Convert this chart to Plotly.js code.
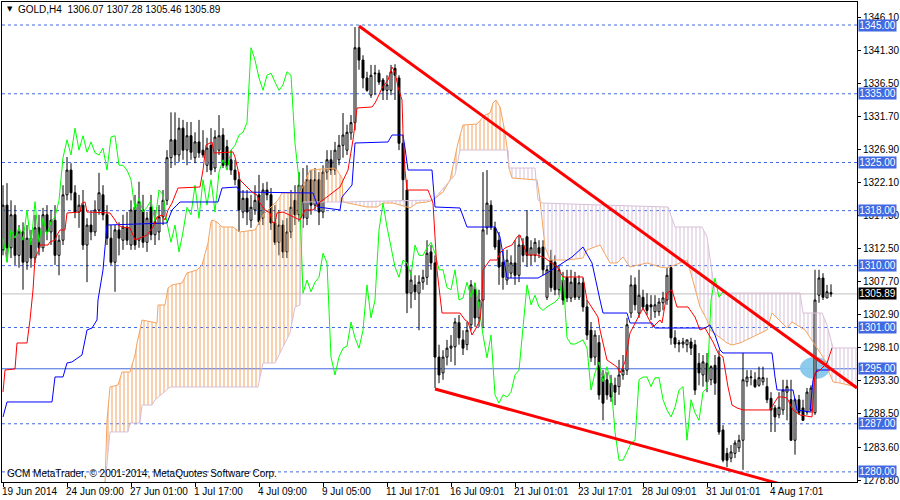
<!DOCTYPE html>
<html><head><meta charset="utf-8">
<script src="https://cdn.plot.ly/plotly-3.0.1.min.js"></script>
<style>html,body{margin:0;padding:0;background:#fff}#chart{width:900px;height:500px}</style>
</head><body><div id="chart"></div>
<script>
// ---------- data (GOLD, H4) ----------
const opens=[1312.3,1318.8,1312.6,1317.4,1311.5,1314.9,1310.5,1314.0,1311.1,1315.5,
1312.6,1317.4,1314.9,1316.6,1311.5,1313.7,1320.3,1323.9,1320.6,1317.8,
1318.8,1313.0,1315.9,1314.9,1318.1,1320.3,1317.4,1314.0,1310.5,1315.2,
1313.7,1315.6,1313.0,1318.5,1313.7,1318.1,1313.4,1318.5,1314.5,1314.9,
1317.1,1319.5,1325.7,1328.3,1326.1,1330.0,1326.8,1328.9,1325.7,1328.0,
1326.8,1324.6,1327.5,1324.2,1326.8,1329.0,1327.3,1325.4,1323.9,1322.5,
1317.8,1319.8,1316.6,1318.1,1320.3,1316.9,1321.0,1320.3,1316.2,1313.4,
1315.9,1312.0,1314.9,1319.5,1317.4,1321.7,1316.9,1322.5,1318.8,1322.5,
1317.8,1323.6,1325.4,1323.9,1325.4,1327.5,1326.8,1329.3,1330.8,1341.7,
1339.9,1337.3,1334.8,1337.9,1338.0,1337.0,1335.5,1335.5,1338.7,1337.3,
1327.8,1321.0,1306.0,1307.2,1306.0,1307.6,1308.3,1312.0,1310.4,1296.7,
1294.4,1296.7,1298.0,1298.2,1301.7,1299.2,1298.5,1301.4,1306.5,1302.4,
1305.0,1315.5,1318.8,1315.5,1313.7,1310.5,1307.9,1308.9,1310.4,1308.6,
1313.0,1314.2,1311.5,1311.5,1312.6,1312.7,1305.4,1310.8,1310.5,1306.5,
1307.9,1308.3,1305.3,1308.2,1305.4,1307.5,1304.0,1300.6,1296.7,1298.8,
1293.8,1293.4,1292.9,1292.6,1292.4,1294.1,1294.8,1303.1,1307.2,1303.1,
1305.4,1304.3,1304.3,1303.3,1303.3,1304.6,1305.0,1309.7,1299.5,1298.8,
1298.6,1298.5,1298.9,1298.5,1295.8,1294.1,1295.8,1293.4,1295.5,1296.7,
1286.1,1282.7,1282.0,1282.7,1283.5,1284.6,1293.1,1293.7,1293.4,1292.6,
1293.1,1292.4,1290.7,1289.3,1288.3,1289.0,1291.6,1290.5,1284.6,1290.5,
1289.3,1288.7,1289.0,1288.6,1305.7,1308.2,1305.3,1306.07];
const highs=[1321.7,1322.0,1319.5,1318.8,1315.9,1316.3,1315.9,1315.2,1317.4,1317.4,
1318.4,1318.8,1318.1,1318.8,1314.5,1321.7,1325.8,1324.9,1321.7,1320.3,
1321.0,1316.9,1318.1,1319.5,1323.5,1321.7,1318.8,1315.9,1315.9,1316.3,
1317.4,1317.8,1319.5,1320.3,1322.2,1320.3,1317.8,1320.3,1318.1,1318.8,
1321.0,1326.8,1332.3,1332.3,1331.5,1331.2,1330.9,1330.9,1329.4,1331.2,
1329.7,1328.6,1330.0,1329.7,1331.9,1330.0,1328.3,1326.8,1325.4,1323.6,
1321.0,1321.0,1320.3,1321.7,1323.2,1322.0,1322.2,1321.3,1318.8,1318.1,
1316.6,1316.9,1321.0,1321.7,1323.6,1324.2,1324.6,1323.9,1324.2,1323.6,
1324.6,1326.8,1326.8,1328.0,1329.0,1332.2,1330.5,1331.9,1344.7,1344.7,
1340.6,1338.2,1339.2,1339.2,1338.5,1337.3,1337.7,1339.2,1339.3,1337.7,
1329.0,1322.5,1309.4,1308.6,1308.6,1309.4,1313.7,1313.0,1311.5,1298.5,
1297.7,1299.2,1299.9,1302.4,1302.8,1300.6,1301.8,1307.9,1307.5,1306.5,
1323.6,1323.9,1319.5,1316.4,1314.9,1312.3,1312.3,1311.5,1313.7,1314.5,
1314.0,1318.1,1313.7,1314.0,1313.7,1313.7,1310.1,1312.3,1311.5,1310.1,
1309.1,1309.4,1309.4,1309.1,1308.6,1308.2,1305.0,1301.8,1300.6,1299.9,
1294.8,1294.5,1294.1,1293.7,1296.3,1297.0,1302.4,1308.6,1308.3,1309.4,
1306.5,1306.0,1305.7,1305.7,1305.3,1306.2,1309.7,1310.1,1300.6,1299.2,
1299.5,1299.2,1299.5,1299.2,1297.3,1297.0,1297.3,1295.5,1297.0,1297.7,
1286.8,1283.5,1283.9,1284.6,1285.4,1297.3,1294.8,1294.8,1294.5,1295.3,
1295.3,1293.7,1291.6,1289.7,1291.6,1293.4,1293.4,1293.4,1290.7,1291.2,
1290.5,1292.2,1292.6,1309.4,1309.4,1308.9,1307.2,1307.28];
const lows=[1311.5,1310.5,1311.1,1310.1,1309.7,1306.5,1309.4,1309.7,1310.4,1311.5,
1312.0,1313.7,1313.0,1310.1,1308.6,1313.0,1319.5,1319.5,1316.9,1315.5,
1312.3,1307.6,1313.7,1314.3,1317.4,1316.6,1313.0,1310.1,1306.2,1311.5,
1312.3,1313.0,1312.3,1312.3,1312.6,1312.6,1312.0,1313.7,1313.0,1313.7,
1315.9,1318.8,1324.2,1324.6,1325.1,1325.4,1324.6,1325.4,1324.9,1325.7,
1325.7,1323.6,1323.2,1323.6,1326.1,1324.2,1323.9,1323.2,1321.7,1314.9,
1316.9,1315.9,1315.5,1317.4,1315.9,1315.9,1319.5,1315.2,1313.0,1311.5,
1311.1,1311.1,1314.0,1315.9,1316.4,1315.5,1315.9,1317.4,1318.1,1315.9,
1316.9,1322.5,1323.2,1323.2,1324.6,1325.7,1326.1,1328.3,1329.7,1338.5,
1335.8,1335.3,1334.4,1334.8,1336.3,1334.1,1334.1,1334.8,1334.1,1326.8,
1319.5,1303.1,1303.8,1305.0,1300.6,1306.5,1307.2,1309.4,1292.2,1292.9,
1293.4,1295.5,1296.0,1295.5,1298.5,1297.0,1297.7,1300.6,1301.1,1301.1,
1300.9,1314.5,1315.2,1312.3,1307.2,1306.5,1307.2,1308.2,1307.2,1307.6,
1310.5,1309.8,1310.1,1310.5,1311.1,1308.6,1305.0,1306.2,1305.7,1305.7,
1304.3,1304.7,1304.7,1305.0,1305.0,1303.3,1299.2,1296.0,1295.5,1290.5,
1287.5,1290.5,1290.2,1289.7,1291.2,1293.4,1294.1,1302.4,1303.5,1302.4,
1303.5,1302.8,1302.1,1302.4,1302.7,1303.5,1304.3,1298.5,1298.0,1297.4,
1298.0,1297.4,1297.0,1291.2,1292.6,1292.4,1291.6,1292.6,1291.2,1285.4,
1281.4,1280.7,1281.4,1282.0,1282.9,1280.3,1292.4,1292.6,1292.2,1292.4,
1292.6,1290.0,1285.8,1285.8,1287.8,1288.3,1287.5,1284.6,1282.5,1288.3,
1287.5,1288.3,1288.6,1288.3,1304.6,1305.0,1305.3,1305.46];
const closes=[1318.8,1312.6,1317.4,1311.5,1314.9,1310.5,1314.0,1311.1,1315.5,1312.6,
1317.4,1314.9,1316.6,1311.5,1313.7,1320.3,1323.9,1320.6,1317.8,1318.8,
1313.0,1315.9,1314.9,1318.1,1320.6,1317.4,1314.0,1310.5,1315.2,1314.0,
1315.6,1313.7,1318.1,1313.0,1319.3,1313.4,1316.9,1314.5,1316.4,1317.1,
1319.5,1325.7,1328.3,1326.1,1330.0,1326.8,1328.9,1326.5,1328.0,1326.4,
1326.1,1327.1,1323.9,1328.7,1328.9,1324.6,1324.6,1323.9,1322.5,1318.1,
1319.8,1317.8,1318.5,1319.5,1316.4,1321.0,1320.3,1316.2,1313.4,1315.9,
1312.0,1314.9,1318.5,1317.4,1321.7,1316.9,1322.5,1318.8,1322.5,1317.8,
1323.6,1325.4,1323.9,1326.8,1327.5,1329.0,1329.4,1330.8,1341.7,1339.9,
1337.3,1335.5,1337.7,1338.0,1336.7,1335.5,1336.3,1338.2,1337.7,1327.8,
1322.5,1306.0,1307.9,1306.2,1307.6,1308.3,1311.8,1310.4,1296.7,1294.1,
1296.7,1298.0,1298.3,1301.8,1299.5,1298.0,1300.6,1307.2,1302.4,1305.0,
1315.2,1319.1,1315.6,1312.7,1309.8,1308.3,1310.8,1310.4,1308.6,1313.0,
1311.5,1311.5,1312.6,1313.4,1311.8,1309.4,1309.4,1306.8,1306.5,1309.4,
1305.0,1305.3,1307.6,1305.4,1307.5,1304.0,1299.9,1296.6,1299.9,1291.2,
1290.0,1291.2,1290.9,1291.6,1294.1,1294.8,1301.4,1307.2,1304.3,1305.7,
1304.0,1303.5,1304.0,1304.3,1304.7,1305.3,1308.6,1299.5,1298.6,1298.6,
1298.9,1299.2,1298.0,1291.9,1294.4,1296.0,1293.1,1295.3,1292.9,1285.8,
1281.7,1281.7,1282.9,1284.2,1284.6,1293.4,1293.8,1293.8,1292.4,1293.7,
1293.7,1290.5,1289.0,1288.0,1289.4,1291.9,1292.4,1284.6,1290.5,1288.6,
1287.5,1291.6,1292.2,1305.0,1308.2,1305.4,1306.2,1305.89];

// Ichimoku lines (x = bar index)
const tenkanX=[0,0.5,3,3.5,6,6.75,7.5,8,8.75,9.25,11.25,11.75,13,13.5,14.25,15.5,16,19.25,19.75,20.5,21,26.75,28,28.75,29.75,31.75,33,34.25,36,37.5,38.5,39.75,40.5,41.25,42.25,43.75,49.25,50,50.75,52.25,52.75,57.5,58,58.75,59.25,62.25,63.5,64.25,65.5,66.75,67.25,68,68.5,70,71.75,74.25,75.5,77.5,79.25,80,84.25,86.25,87.5,88.5,92.25,93,93.75,94.75,96.25,97.25,98,98.75,99.75,100,100.5,101,106.25,107.5,108,108.5,109.75,114.25,115.5,116.25,117.25,118,119.25,119.75,120,121.75,123.5,124.25,125.5,127.25,128.5,129.25,131,133.5,135.5,138.5,140,145,146,148.75,149.25,151,153.5,154.25,155.5,156.75,160,162.5,164.25,164.75,166,167.25,168.5,171.25,173,174.25,175.5,177.5,178.75,180,181.25,182.25,183.5,185,191.75,192.5,193.75,194.75,196,197.5,199.25,202.25,203,204.25,206,207.25];
const tenkanY=[1291.62,1294.82,1294.97,1298.75,1298.75,1302.10,1306.46,1311.11,1311.99,1313.00,1313.00,1313.44,1313.73,1314.46,1315.19,1315.19,1317.66,1317.80,1319.11,1319.26,1317.80,1317.66,1316.64,1315.91,1315.62,1315.48,1313.73,1314.02,1314.46,1315.62,1317.08,1317.37,1316.64,1318.10,1319.11,1321.29,1321.44,1323.91,1327.55,1327.99,1326.39,1326.53,1325.80,1323.91,1322.46,1320.71,1320.28,1319.11,1318.10,1317.66,1316.35,1316.20,1317.66,1317.80,1317.37,1316.64,1318.10,1318.10,1319.26,1319.55,1321.44,1323.91,1328.28,1332.93,1333.08,1333.66,1334.53,1335.84,1337.00,1338.89,1338.17,1335.99,1334.09,1329.30,1323.91,1321.00,1321.00,1319.11,1314.17,1309.37,1303.11,1303.11,1302.10,1301.81,1299.91,1300.64,1302.10,1305.00,1309.37,1310.82,1310.82,1311.84,1312.57,1313.00,1314.17,1314.46,1311.55,1311.55,1311.11,1309.80,1308.35,1308.35,1305.00,1302.53,1300.64,1296.28,1295.26,1294.39,1295.99,1300.21,1303.84,1301.08,1302.10,1301.66,1306.02,1306.46,1303.99,1303.99,1302.53,1300.64,1300.93,1298.90,1297.30,1296.71,1292.35,1289.73,1289.30,1289.01,1289.01,1289.73,1290.90,1290.90,1290.75,1289.01,1288.28,1287.99,1294.39,1294.82,1295.84,1298.02];
const kijunX=[0,1,12.25,13,15,16,17.25,19.75,21,22.25,23.5,23.75,25,26,41,42.25,44.25,53.75,54.75,58.5,59.25,77.5,78.75,84.25,84.75,87.25,88,96.25,97.25,100,100.5,101.25,107.25,108,114.25,116,123,124.25,126,133.75,136,140,142.25,145,147.25,149.25,150,156,156.75,162.25,163,175.5,176.75,178,179.25,180,192.25,193,193.5,197.5,198.5,201.75,202.5,203.5,206.75];
const kijunY=[1287.99,1290.17,1290.17,1293.81,1293.81,1295.84,1295.99,1297.01,1300.64,1300.93,1302.10,1305.00,1309.37,1315.91,1316.20,1318.10,1319.26,1319.26,1321.29,1321.44,1320.71,1320.57,1318.53,1318.10,1319.99,1321.73,1327.84,1327.99,1329.00,1329.00,1327.11,1323.91,1323.91,1318.53,1318.39,1315.62,1315.62,1314.17,1308.20,1308.20,1308.93,1310.39,1311.26,1312.71,1310.39,1305.00,1303.11,1303.11,1301.66,1301.66,1300.93,1300.93,1301.37,1299.91,1297.73,1297.30,1297.30,1293.81,1291.91,1291.91,1289.01,1288.71,1293.37,1294.82,1294.82];
const senkouAX=[25.5,26,26.75,28.75,29.75,31.75,33,33.5,34.25,34.75,38.5,38.75,40.5,41.25,42.25,44.75,46,48.5,49.75,50.25,51.25,52,52.25,53.5,54.75,57.5,59.25,63,65,68.75,69.75,74.25,76.75,82.5,83.5,84.75,85,91,93.5,95,97.5,101,101.75,103.5,106,107.5,110,111.75,112.5,113.75,115,118.5,120.5,121.75,122.5,123.25,124.25,125.25,126,126.5,127.25,133.5,134.25,135.5,136.75,141,145,146,149.25,151.75,153.5,155,156.75,161,164.25,166,169.25,171,171.75,173,174.25,176,176.75,181,182.25,184.25,188.5,191,192.25,193.5,196,197.25,200.5,203,205,207.5,209.25,213.5];
const senkouAY=[1278.10,1287.55,1292.35,1292.64,1294.53,1294.53,1297.00,1298.75,1300.64,1302.09,1301.66,1304.28,1304.28,1306.75,1307.19,1307.48,1308.93,1309.37,1310.10,1311.26,1313.30,1316.35,1316.64,1316.35,1315.62,1315.62,1314.90,1315.19,1317.37,1319.55,1320.57,1320.57,1323.91,1324.20,1323.91,1322.75,1319.26,1318.53,1318.53,1319.11,1319.11,1318.53,1318.39,1319.11,1319.26,1319.55,1320.71,1322.46,1324.35,1327.84,1330.46,1330.60,1331.91,1332.20,1333.66,1334.09,1333.08,1330.17,1327.26,1324.20,1322.75,1322.46,1319.55,1312.71,1310.82,1310.82,1311.11,1312.28,1313.00,1310.39,1310.39,1311.26,1309.80,1310.39,1309.80,1309.66,1310.39,1310.82,1309.37,1306.75,1303.99,1302.09,1300.64,1298.75,1298.46,1298.75,1299.91,1300.64,1303.11,1302.39,1300.93,1301.81,1300.64,1298.46,1296.71,1293.08,1292.93,1292.35];
const senkouBX=[25.5,26.75,31.25,31.75,34.25,34.75,37.25,38,41.75,63.75,65,68,69.25,71.75,73,74.25,75,85,107.5,113,114.25,126.25,126.5,133,133.75,134.75,149.25,166.25,168,174.75,176,178,199.25,200,204.75,206,207.5,213.5];
const senkouBY=[1278.10,1285.81,1285.81,1287.11,1287.11,1289.73,1289.73,1290.46,1292.35,1292.35,1295.84,1295.84,1297.30,1300.21,1303.99,1304.28,1319.26,1319.26,1319.55,1323.19,1326.82,1326.82,1324.20,1324.20,1319.55,1319.11,1318.82,1318.53,1315.62,1315.62,1314.17,1306.02,1306.02,1303.11,1303.11,1301.37,1298.02,1298.02];
const cloudBreaks=[25.5,85,107.5,126.5,213.5];
const cloudAAbove=[true,false,true,false];
const chikouShift=26;

const tickIdx=[0,16,32,48,64,80,96,112,128,144,160,176,192];
const tickText=['19 Jun 2014','24 Jun 09:00','27 Jun 01:00','1 Jul 17:00','4 Jul 09:00','9 Jul 05:00','11 Jul 17:01','16 Jul 09:01','21 Jul 01:01','23 Jul 17:01','28 Jul 09:01','31 Jul 01:01','4 Aug 17:01'];
const yTickVals=[1346.10,1341.30,1336.50,1331.70,1326.90,1322.10,1317.30,1312.50,1307.70,1302.90,1298.10,1293.30,1288.50,1283.60,1278.80];
const levelsDashed=[1345,1335,1325,1318,1310,1301,1287,1280];
const levelsSolid=[1295];
const bidPrice=1305.89;
const upperTrendX=[89,213.5], upperTrendY=[1344.86,1292.21];
const lowerTrendX=[108,200], lowerTrendY=[1292.06,1277.33];
const highlightX=[199.25,206.75], highlightY=[1293.52,1296.72];
const headerText='GOLD,H4  1306.07 1307.28 1305.46 1305.89';
const copyrightText='GCM MetaTrader, © 2001-2014, MetaQuotes Software Corp.';

// ---------- drawing ----------
const FONT='Liberation Sans, Arial, sans-serif';
const FS=10;
const BLUE='#4169E1', ORANGE='#F4A460', THISTLE='#D8BFD8';
const traces=[];
function sliceRange(xs,ys,a,b){const X=[],Y=[];xs.forEach((x,k)=>{if(x>=a-1e-9&&x<=b+1e-9){X.push(x);Y.push(ys[k]);}});return [X,Y];}
for(let s=0;s<cloudBreaks.length-1;s++){
  const a=cloudBreaks[s], b=cloudBreaks[s+1];
  const [bx,by]=sliceRange(senkouBX,senkouBY,a,b);
  const [ax,ay]=sliceRange(senkouAX,senkouAY,a,b);
  const col=cloudAAbove[s]?ORANGE:THISTLE;
  traces.push({type:'scatter',mode:'lines',x:bx,y:by,line:{width:0},hoverinfo:'skip'});
  traces.push({type:'scatter',mode:'lines',x:ax,y:ay,line:{width:0},fill:'tonexty',fillcolor:'rgba(0,0,0,0)',
    fillpattern:{shape:'|',size:4,solidity:0.25,fgcolor:col,bgcolor:'rgba(0,0,0,0)',fillmode:'replace'},hoverinfo:'skip'});
}
const idx=closes.map((_,i)=>i);
traces.push({type:'candlestick',x:idx,open:opens,high:highs,low:lows,close:closes,
  increasing:{line:{color:'#000',width:1},fillcolor:'#fff'},
  decreasing:{line:{color:'#000',width:1},fillcolor:'#000'},whiskerwidth:0,hoverinfo:'skip'});
traces.push({type:'scatter',mode:'lines',x:senkouAX,y:senkouAY,line:{color:ORANGE,width:1},hoverinfo:'skip'});
traces.push({type:'scatter',mode:'lines',x:senkouBX,y:senkouBY,line:{color:THISTLE,width:1},hoverinfo:'skip'});
const chY=closes.slice(chikouShift);
traces.push({type:'scatter',mode:'lines',x:chY.map((_,k)=>k),y:chY,line:{color:'#00FF00',width:1},hoverinfo:'skip'});
traces.push({type:'scatter',mode:'lines',x:kijunX,y:kijunY,line:{color:'#0000FF',width:1},hoverinfo:'skip'});
traces.push({type:'scatter',mode:'lines',x:tenkanX,y:tenkanY,line:{color:'#FF0000',width:1},hoverinfo:'skip'});
traces.push({type:'scatter',mode:'lines',x:upperTrendX,y:upperTrendY,line:{color:'#FF0000',width:3},hoverinfo:'skip'});
traces.push({type:'scatter',mode:'lines',x:lowerTrendX,y:lowerTrendY,line:{color:'#FF0000',width:3},hoverinfo:'skip'});

const shapes=[];
shapes.push({type:'line',xref:'paper',x0:0,x1:1,yref:'y',y0:bidPrice,y1:bidPrice,line:{color:'#C0C0C0',width:1},layer:'below'});
levelsDashed.forEach(v=>shapes.push({type:'line',xref:'paper',x0:0,x1:1,yref:'y',y0:v,y1:v,line:{color:BLUE,width:1,dash:'3px,3px'},layer:'below'}));
levelsSolid.forEach(v=>shapes.push({type:'line',xref:'paper',x0:0,x1:1,yref:'y',y0:v,y1:v,line:{color:BLUE,width:1},layer:'below'}));
shapes.push({type:'circle',xref:'x',yref:'y',x0:highlightX[0],x1:highlightX[1],y0:highlightY[0],y1:highlightY[1],fillcolor:'#87C8EB',line:{width:0},opacity:0.95,layer:'below'});

const ann=[];
tickIdx.forEach((t,k)=>ann.push({xref:'x',x:t,xanchor:'left',xshift:-3,yref:'paper',y:0,yanchor:'top',yshift:-2,text:tickText[k],showarrow:false,font:{family:FONT,size:FS,color:'#000'}}));
levelsDashed.concat(levelsSolid).forEach(v=>ann.push({xref:'paper',x:1,xanchor:'left',xshift:1,yref:'y',y:v,yanchor:'middle',text:v.toFixed(2),showarrow:false,bgcolor:BLUE,borderpad:0,width:37,height:11,align:'center',font:{family:FONT,size:FS,color:'#fff'}}));
ann.push({xref:'paper',x:1,xanchor:'left',xshift:1,yref:'y',y:bidPrice,yanchor:'middle',text:bidPrice.toFixed(2),showarrow:false,bgcolor:'#000',borderpad:0,width:37,height:11,align:'center',font:{family:FONT,size:FS,color:'#fff'}});
ann.push({xref:'paper',x:0.003,xanchor:'left',yref:'paper',y:0.985,yanchor:'middle',text:'▼',showarrow:false,font:{family:'DejaVu Sans',size:7,color:'#000'}});
ann.push({xref:'paper',x:0.016,xanchor:'left',yref:'paper',y:0.985,yanchor:'middle',text:headerText,showarrow:false,font:{family:FONT,size:FS,color:'#000'}});
ann.push({xref:'paper',x:0.004,xanchor:'left',yref:'paper',y:0.017,yanchor:'middle',text:copyrightText,showarrow:false,font:{family:FONT,size:FS,color:'#000'}});

const layout={width:900,height:500,margin:{l:2,r:43,t:2,b:18,pad:0},paper_bgcolor:'#fff',plot_bgcolor:'#fff',showlegend:false,
  xaxis:{range:[-0.25,213.5],tickvals:tickIdx,showticklabels:false,ticks:'outside',ticklen:4,tickcolor:'#000',showgrid:false,zeroline:false,showline:true,mirror:true,linecolor:'#000',linewidth:1,rangeslider:{visible:false},fixedrange:true},
  yaxis:{side:'right',range:[1278.53,1348.35],tickvals:yTickVals,ticktext:yTickVals.map(v=>v.toFixed(2)),ticks:'outside',ticklen:3,tickcolor:'#000',showgrid:false,zeroline:false,showline:true,mirror:true,linecolor:'#000',linewidth:1,tickfont:{family:FONT,size:FS,color:'#000'},fixedrange:true},
  shapes:shapes,annotations:ann};
Plotly.newPlot('chart',traces,layout,{staticPlot:true,displayModeBar:false});
</script></body></html>
